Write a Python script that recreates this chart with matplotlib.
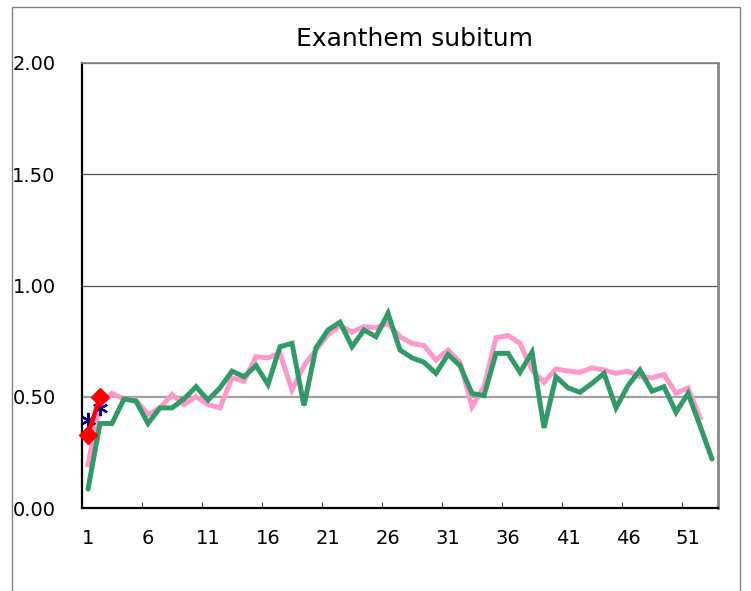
import numpy as np
import matplotlib.pyplot as plt
from matplotlib.patches import Rectangle

plt.rcParams["font.family"] = ["Liberation Sans Narrow", "DejaVu Sans"]

TITLE = "Exanthem subitum"
WEEKS = np.arange(1, 54)
XTICK_LABELS = [1, 6, 11, 16, 21, 26, 31, 36, 41, 46, 51]
YTICKS = [0.0, 0.5, 1.0, 1.5, 2.0]

# pink: previous years average (weeks 1-52)
avg_series = [0.195, 0.47, 0.515, 0.49, 0.485, 0.42, 0.45, 0.51, 0.465, 0.50,
              0.465, 0.45, 0.585, 0.57, 0.68, 0.675, 0.695, 0.53, 0.64, 0.71,
              0.78, 0.82, 0.79, 0.815, 0.81, 0.83, 0.77, 0.74, 0.73, 0.665,
              0.71, 0.655, 0.455, 0.545, 0.765, 0.775, 0.74, 0.62, 0.565, 0.625,
              0.615, 0.61, 0.63, 0.62, 0.605, 0.615, 0.59, 0.585, 0.60, 0.515,
              0.54, 0.405]

# green: last year (weeks 1-53)
last_series = [0.085, 0.38, 0.38, 0.49, 0.48, 0.38, 0.45, 0.45, 0.49, 0.545,
               0.485, 0.54, 0.615, 0.59, 0.64, 0.555, 0.725, 0.74, 0.46, 0.72,
               0.80, 0.835, 0.725, 0.80, 0.77, 0.875, 0.71, 0.675, 0.655, 0.605,
               0.69, 0.64, 0.515, 0.505, 0.695, 0.695, 0.61, 0.70, 0.36, 0.59,
               0.54, 0.52, 0.56, 0.605, 0.45, 0.55, 0.62, 0.525, 0.545, 0.43,
               0.515, 0.37, 0.22]

# red: current year (weeks 1-2)
this_series = [0.33, 0.50]

# navy stars: comparison year (weeks 1-2)
star_series = [0.395, 0.45]

fig = plt.figure(figsize=(7.51, 5.91), dpi=100)
fig.patches.append(Rectangle((12 / 751, -0.05), 728 / 751, 1.05 - 7 / 591,
                             transform=fig.transFigure, fill=False,
                             edgecolor="#808080", linewidth=1.0))

ax = fig.add_axes([82 / 751, 1 - 508 / 591, 636 / 751, 445 / 591])

for y in [1.0, 1.5, 2.0]:
    ax.axhline(y, color="#505050", linewidth=0.9, zorder=1)
ax.axhline(0.5, color="#a0a0a0", linewidth=1.6, zorder=1)

ax.plot(WEEKS[:len(avg_series)], avg_series, color="#ff99cc", linewidth=3.6,
        solid_joinstyle="miter", zorder=2)
ax.plot(WEEKS[:len(last_series)], last_series, color="#339966", linewidth=3.6,
        solid_joinstyle="miter", solid_capstyle="round", zorder=3)
ax.plot(WEEKS[:len(star_series)], star_series, linestyle="none",
        marker=(6, 2, 0), markersize=11, markeredgewidth=1.6,
        color="#000080", zorder=4, clip_on=False)
ax.plot(WEEKS[:len(this_series)], this_series, color="#ff0000", linewidth=3.2,
        marker="D", markersize=9.5, zorder=5, clip_on=False)

ax.set_xlim(0.5, 53.5)
ax.set_ylim(0, 2.0)

ax.set_xticks(XTICK_LABELS)
ax.set_xticklabels([str(v) for v in XTICK_LABELS], fontsize=14)
ax.set_xticks(np.arange(5.5, 51, 5), minor=True)
ax.tick_params(axis="x", which="major", length=0, pad=15)
ax.tick_params(axis="x", which="minor", direction="in", length=4.5,
               width=0.8, color="#404040")

ax.set_yticks(YTICKS)
ax.set_yticklabels([f"{v:.2f}" for v in YTICKS], fontsize=14)
ax.tick_params(axis="y", length=0, pad=19)

ax.spines["left"].set_color("black")
ax.spines["left"].set_linewidth(1.6)
ax.spines["bottom"].set_color("black")
ax.spines["bottom"].set_linewidth(1.6)
ax.spines["right"].set_color("#888888")
ax.spines["right"].set_linewidth(2.0)
ax.spines["top"].set_color("#888888")
ax.spines["top"].set_linewidth(1.2)

fig.text(415 / 751, 1 - 39 / 591, TITLE, fontsize=18, ha="center", va="center")

fig.savefig("out.png", dpi=100)
